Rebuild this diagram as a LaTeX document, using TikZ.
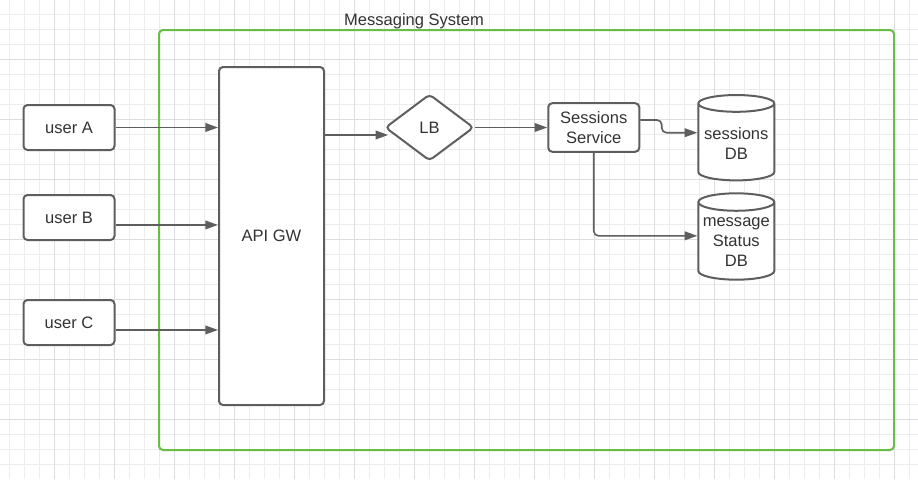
\documentclass[tikz,border=0pt]{standalone}
\usepackage{fontspec}
\setmainfont{Liberation Sans}
\usepackage{xcolor}
\usetikzlibrary{arrows.meta, shapes.geometric}

\definecolor{edgegray}{RGB}{94,94,94}
\definecolor{txtgray}{RGB}{51,51,51}
\definecolor{framegreen}{RGB}{104,190,68}
\definecolor{gridminor}{RGB}{236,236,236}
\definecolor{gridmajor}{RGB}{221,221,221}

\begin{document}
\begin{tikzpicture}[x=0.75pt, y=-0.75pt,
font=\fontsize{12.4}{15}\selectfont, text=txtgray,
boxnode/.style={rectangle, rounded corners=3pt, draw=edgegray, fill=white, line width=1.5pt, align=center, inner sep=1pt},
lbnode/.style={diamond, rounded corners=3pt, draw=edgegray, fill=white, line width=1.5pt, inner sep=0pt, minimum width=66.5pt, minimum height=50pt},
dbnode/.style={cylinder, shape border rotate=90, aspect=0.25, draw=edgegray, fill=white, line width=1.5pt, align=center, inner sep=1pt, minimum width=57pt, minimum height=64pt},
arr/.style={draw=edgegray, line width=1.2pt, -{Triangle[length=9.5pt, width=6.5pt]}},
]
\useasboundingbox (0,0) rectangle (918,479);
\fill[white] (0,0) rectangle (918,479);

%Grid
\foreach \i in {0,...,60} \draw[gridminor, line width=0.75pt] (9.3+15*\i,0) -- (9.3+15*\i,479);
\foreach \j in {0,...,30} \draw[gridminor, line width=0.75pt] (0,14.3+15*\j) -- (918,14.3+15*\j);
\foreach \i in {0,...,14} \draw[gridmajor, line width=0.75pt] (54.3+60*\i,0) -- (54.3+60*\i,479);
\foreach \j in {0,...,6} \draw[gridmajor, line width=0.75pt] (0,59.3+60*\j) -- (918,59.3+60*\j);

%Frame
\draw[framegreen, line width=1.5pt, rounded corners=3pt] (159,30) rectangle (894,450);
\node (system_label) at (414,21) {Messaging System};

%Nodes
\node[boxnode, minimum width=68.25pt, minimum height=33.75pt] (user_a) at (69,127.5) {user A};
\node[boxnode, minimum width=68.25pt, minimum height=33.75pt] (user_b) at (69,217.5) {user B};
\node[boxnode, minimum width=68.25pt, minimum height=33.75pt] (user_c) at (69,322.5) {user C};
\node[boxnode, minimum width=78.75pt, minimum height=253.5pt] (api_gw) at (271.5,236) {API GW};
\node[lbnode] (lb) at (429.5,127.5) {LB};
\node[boxnode, minimum width=68.25pt, minimum height=36.4pt] (sessions_service) at (593.75,127.5) {Sessions\\Service};
\node[dbnode] (sessions_db) at (736.3,143.5) {sessions\\DB};
\node[dbnode, minimum height=64.75pt] (status_db) at (736.3,242.5) {message\\Status\\DB};

%Lines
\draw[arr] (user_a.east) -- (user_a.east -| api_gw.west);
\draw[arr] ([yshift=-5.6pt]user_b.east) -- ([yshift=-5.6pt]user_b.east -| api_gw.west);
\draw[arr] ([yshift=-5.6pt]user_c.east) -- ([yshift=-5.6pt]user_c.east -| api_gw.west);
\draw[arr] ([yshift=-5.6pt]lb.west -| api_gw.east) -- ([xshift=3pt, yshift=-5.6pt]lb.west);
\draw[arr] (lb.east) -- (sessions_service.west);
\draw[arr, rounded corners=3.5pt] ([yshift=5.6pt]sessions_service.east) -- ++(21.5,0) |- ([yshift=8.1pt]sessions_db.west);
\draw[arr, rounded corners=3.5pt] (sessions_service.south) |- ([yshift=5pt]status_db.west);

\end{tikzpicture}
\end{document}
